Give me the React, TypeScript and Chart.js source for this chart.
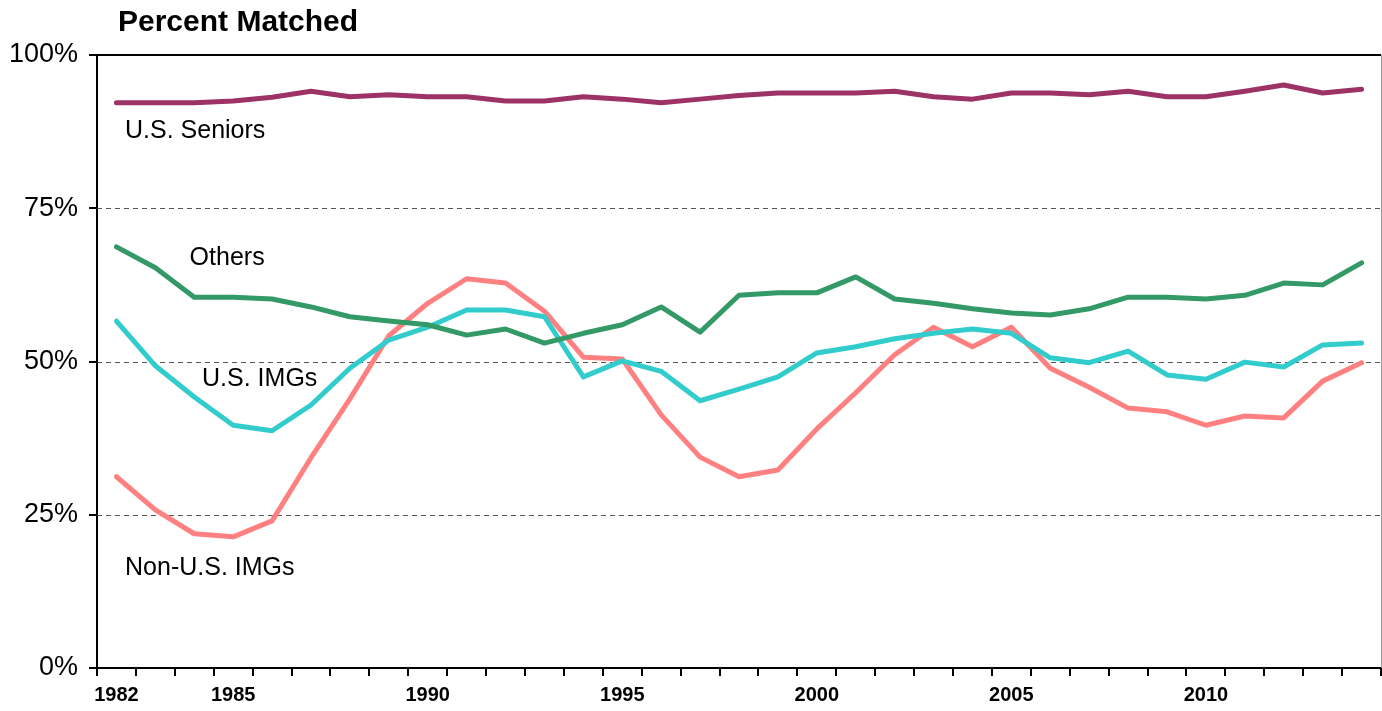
import React, { useEffect, useRef } from "react";
import { Chart, registerables } from "chart.js";

Chart.register(...registerables);

const years: string[] = [
  "1982","1983","1984","1985","1986","1987","1988","1989","1990","1991","1992",
  "1993","1994","1995","1996","1997","1998","1999","2000","2001","2002","2003",
  "2004","2005","2006","2007","2008","2009","2010","2011","2012","2013","2014",
];
const shownYears: string[] = ["1982", "1985", "1990", "1995", "2000", "2005", "2010"];
const yTicks: number[] = [0, 25, 50, 75, 100];

const usSeniors: number[] = [
  92.2, 92.2, 92.2, 92.5, 93.1, 94.1, 93.2, 93.5, 93.2, 93.2, 92.5,
  92.5, 93.2, 92.8, 92.2, 92.8, 93.4, 93.8, 93.8, 93.8, 94.1, 93.2,
  92.8, 93.8, 93.8, 93.5, 94.1, 93.2, 93.2, 94.1, 95.1, 93.8, 94.4,
];
const others: number[] = [
  68.7, 65.3, 60.5, 60.5, 60.2, 58.9, 57.3, 56.6, 56.0, 54.3, 55.3,
  53.0, 54.6, 56.0, 58.9, 54.8, 60.8, 61.2, 61.2, 63.8, 60.2, 59.5,
  58.6, 57.9, 57.6, 58.6, 60.5, 60.5, 60.2, 60.8, 62.8, 62.5, 66.1,
];
const usIMGs: number[] = [
  56.6, 49.3, 44.2, 39.6, 38.7, 42.9, 48.9, 53.5, 55.6, 58.4, 58.4,
  57.3, 47.5, 50.1, 48.4, 43.6, 45.5, 47.5, 51.4, 52.4, 53.7, 54.6,
  55.3, 54.6, 50.6, 49.8, 51.7, 47.8, 47.1, 49.9, 49.1, 52.7, 53.0,
];
const nonUSIMGs: number[] = [
  31.2, 25.8, 21.9, 21.4, 24.0, 34.3, 43.9, 54.2, 59.5, 63.5, 62.8,
  58.2, 50.7, 50.4, 41.3, 34.4, 31.2, 32.3, 39.0, 44.9, 51.1, 55.6,
  52.4, 55.6, 48.9, 45.8, 42.4, 41.8, 39.6, 41.1, 40.8, 46.8, 49.8,
];

const seriesNames: string[] = ["U.S. Seniors", "Others", "U.S. IMGs", "Non-U.S. IMGs"];
const seriesColors: string[] = ["#9C3265", "#339966", "#33CCCC", "#FF8080"];
// label anchor: [category index, value]
const labelAnchors: [number, number][] = [
  [0.22, 87.6],
  [1.88, 66.8],
  [2.2, 47.2],
  [0.22, 16.3],
];

const FONT = "'Liberation Sans', Arial, Helvetica, sans-serif";

const decorPlugin = {
  id: "decor",
  beforeDatasetsDraw(chart: any) {
    const { ctx, chartArea, scales } = chart;
    const y = scales.y;
    ctx.save();
    ctx.strokeStyle = "#555555";
    ctx.lineWidth = 1;
    ctx.setLineDash([5, 4]);
    [25, 50, 75].forEach((v) => {
      const py = Math.round(y.getPixelForValue(v)) + 0.5;
      ctx.beginPath();
      ctx.moveTo(chartArea.left, py);
      ctx.lineTo(chartArea.right, py);
      ctx.stroke();
    });
    ctx.setLineDash([]);
    ctx.strokeStyle = "#000000";
    ctx.lineWidth = 2;
    const pt = y.getPixelForValue(100);
    ctx.beginPath();
    ctx.moveTo(chartArea.left, pt);
    ctx.lineTo(chartArea.right, pt);
    ctx.stroke();
    ctx.strokeStyle = "#999999";
    ctx.lineWidth = 1;
    ctx.beginPath();
    ctx.moveTo(chartArea.right + 0.5, pt);
    ctx.lineTo(chartArea.right + 0.5, chartArea.bottom);
    ctx.stroke();
    ctx.restore();
  },
  afterDraw(chart: any) {
    const { ctx, scales } = chart;
    ctx.save();
    ctx.fillStyle = "#000000";
    ctx.font = `bold 30px ${FONT}`;
    ctx.textAlign = "left";
    ctx.textBaseline = "middle";
    ctx.fillText("Percent Matched", 118, 23);
    ctx.font = `25px ${FONT}`;
    seriesNames.forEach((name, i) => {
      const [xi, v] = labelAnchors[i];
      const px = scales.x.getPixelForValue(0) + xi * (scales.x.getPixelForValue(1) - scales.x.getPixelForValue(0));
      const py = scales.y.getPixelForValue(v);
      ctx.fillText(name, px, py);
    });
    ctx.restore();
  },
};

export default function App() {
  const canvasRef = useRef<HTMLCanvasElement | null>(null);

  useEffect(() => {
    document.body.style.margin = "0";
    const canvas = canvasRef.current;
    if (!canvas) return;
    const datasetsData = [usSeniors, others, usIMGs, nonUSIMGs];
    const chart = new Chart(canvas, {
      type: "line",
      data: {
        labels: years,
        datasets: datasetsData.map((d, i) => ({
          label: seriesNames[i],
          data: d,
          borderColor: seriesColors[i],
          backgroundColor: seriesColors[i],
          borderWidth: 5,
          pointRadius: 0,
          tension: 0,
          fill: false,
          borderCapStyle: "round" as const,
          borderJoinStyle: "round" as const,
        })),
      },
      options: {
        animation: false,
        responsive: false,
        maintainAspectRatio: false,
        layout: { padding: { top: 55, right: 1, left: 0, bottom: 0 } },
        plugins: {
          legend: { display: false },
          title: { display: false },
          tooltip: { enabled: false },
        },
        scales: {
          x: {
            type: "category",
            offset: true,
            afterFit: (s: any) => { s.height = 43; },
            grid: {
              offset: true,
              drawOnChartArea: false,
              drawTicks: true,
              tickLength: 8,
              color: "#000000",
              lineWidth: 2,
            },
            border: { display: true, color: "#000000", width: 2 },
            ticks: {
              autoSkip: false,
              maxRotation: 0,
              color: "#000000",
              padding: 7,
              font: { family: FONT, size: 20, weight: "bold" },
              callback: (_v: any, idx: number) =>
                shownYears.includes(years[idx]) ? years[idx] : "",
            },
          },
          y: {
            min: 0,
            max: 100,
            afterFit: (s: any) => { s.width = 97; },
            afterBuildTicks: (s: any) => { s.ticks = yTicks.map((v) => ({ value: v })); },
            grid: {
              drawOnChartArea: false,
              drawTicks: true,
              tickLength: 8,
              color: "#000000",
              lineWidth: 2,
            },
            border: { display: true, color: "#000000", width: 2 },
            ticks: {
              color: "#000000",
              padding: 11,
              font: { family: FONT, size: 27 },
              callback: (v: any) => `${v}%`,
            },
          },
        },
      },
      plugins: [decorPlugin],
    });
    return () => chart.destroy();
  }, []);

  return (
    <div style={{ width: 1382, height: 711 }}>
      <canvas ref={canvasRef} width={1382} height={711} style={{ display: "block" }} />
    </div>
  );
}
